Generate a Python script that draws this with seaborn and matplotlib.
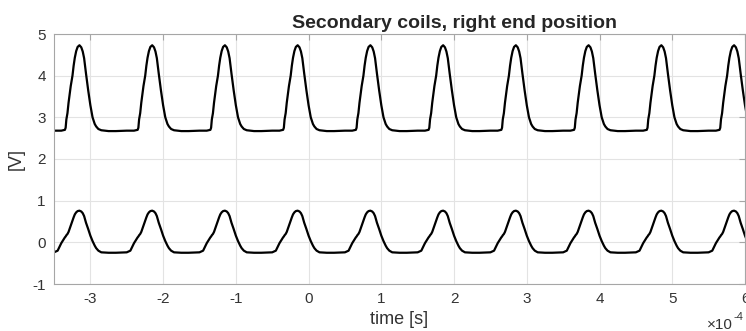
import numpy as np
import pandas as pd
import seaborn as sns
import matplotlib.pyplot as plt
from matplotlib.ticker import FuncFormatter

# one period of each trace
# phase is in periods, 0 = peak of the pulse
phase = [-0.50, -0.35, -0.30, -0.25, -0.20, -0.19, -0.18, -0.165, -0.15, -0.12, -0.096,
         -0.08, -0.064, -0.045, -0.025, 0.0, 0.025, 0.045, 0.064, 0.09, 0.12, 0.15,
         0.18, 0.21, 0.23, 0.26, 0.30, 0.40]
upper_v = [2.67, 2.68, 2.68, 2.68, 2.70, 2.75, 2.95, 3.10, 3.35, 3.75, 4.00,
           4.24, 4.43, 4.59, 4.69, 4.73, 4.68, 4.58, 4.42, 4.05, 3.65, 3.29,
           3.00, 2.84, 2.78, 2.72, 2.69, 2.67]
lower_v = [-0.25, -0.24, -0.20, -0.02, 0.12, 0.14, 0.17, 0.20, 0.25, 0.40, 0.52,
           0.60, 0.67, 0.72, 0.75, 0.76, 0.74, 0.70, 0.63, 0.47, 0.32, 0.16,
           0.03, -0.08, -0.14, -0.20, -0.24, -0.25]

# pulse peaks, in units of 1e-4 s
peaks = [-3.15, -2.15, -1.15, -0.15, 0.85, 1.85, 2.85, 3.85, 4.85, 5.85]

title = "Secondary coils, right end position"

# build the traces
rows = []
for name, vals in [("upper", upper_v), ("lower", lower_v)]:
    for p in peaks:
        for ph, v in zip(phase, vals):
            rows.append({"trace": name, "t": (p + ph) * 1e-4, "v": v})
df = pd.DataFrame(rows)

sns.set_style("whitegrid")
plt.rcParams["font.family"] = ["Liberation Sans", "DejaVu Sans"]
plt.rcParams["axes.unicode_minus"] = False

fig = plt.figure(figsize=(7.46, 3.31), dpi=100)
ax = fig.add_axes([54 / 746, 47 / 331, 691 / 746, 250 / 331])

for name in ["upper", "lower"]:
    sns.lineplot(data=df[df.trace == name], x="t", y="v", sort=False,
                 color="black", lw=1.6, ax=ax, legend=False)

ax.set_xlim(-3.5e-4, 6e-4)
ax.set_ylim(-1, 5)
ax.set_xticks(np.arange(-3, 7) * 1e-4)
ax.set_yticks(np.arange(-1, 6))
ax.xaxis.set_major_formatter(FuncFormatter(lambda v, _: "%d" % round(v * 1e4)))

ax.grid(True, color="#e3e3e3", lw=0.8)
for s in ax.spines.values():
    s.set_color("#a6a6a6")
    s.set_linewidth(0.8)
ax.tick_params(direction="in", length=4, color="#a6a6a6", labelsize=11,
               labelcolor="#333333", top=True, right=True, pad=6)

ax.set_xlabel("time [s]", fontsize=13, color="#333333", labelpad=3)
ax.set_ylabel("[V]", fontsize=13, color="#333333", labelpad=5)
ax.set_title(title, fontsize=14, fontweight="bold", x=0.579, pad=4)

# MATLAB style exponent under the right end of the x axis
fig.text(733 / 746, 2 / 331, "\u00d710", fontsize=11, color="#333333",
         ha="right", va="baseline")
fig.text(733 / 746, 11 / 331, "-4", fontsize=8, color="#333333",
         ha="left", va="baseline")

fig.savefig("out.png", dpi=100)
